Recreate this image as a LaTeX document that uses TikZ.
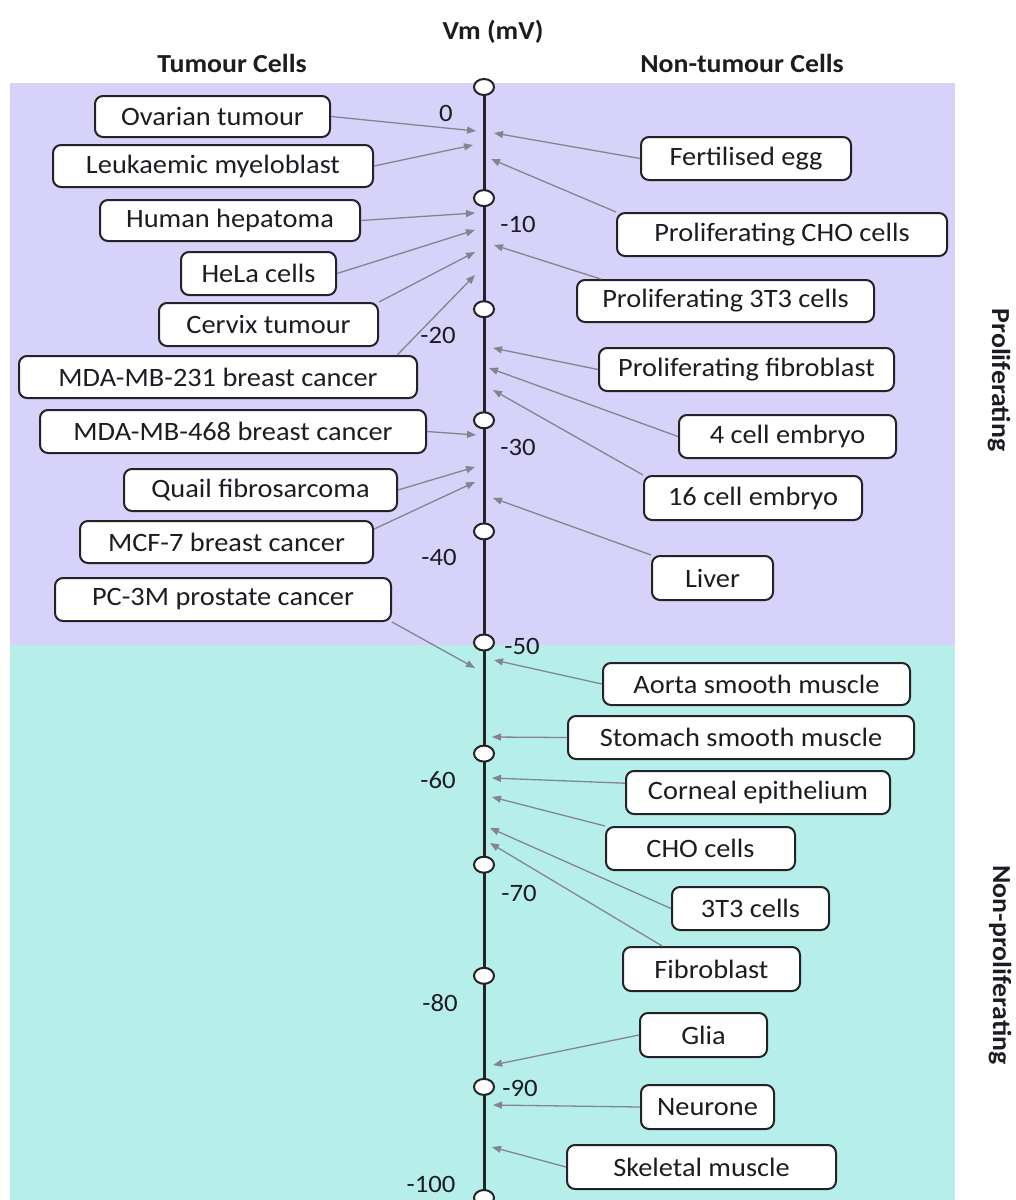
\documentclass[tikz,border=0pt]{standalone}
\usepackage{fontspec}
\setmainfont[FakeStretch=1.07]{Carlito}
\usetikzlibrary{arrows.meta,shapes.geometric}

\definecolor{prolif}{RGB}{214,210,249}
\definecolor{quiesc}{RGB}{182,239,234}
\definecolor{boxline}{RGB}{34,34,40}
\definecolor{linkgrey}{RGB}{132,132,142}
\definecolor{inkcol}{RGB}{28,28,34}

\tikzset{
  cellbox/.style={draw=boxline, line width=2pt, fill=white, rounded corners=8pt,
    inner sep=0pt, text=inkcol, font=\fontsize{26.5}{30}\selectfont},
  link/.style={draw=linkgrey, line width=1.3pt, -{Triangle[length=9pt,width=7pt]}},
  scalelbl/.style={inner sep=0pt, text=inkcol, font=\fontsize{25}{28}\selectfont},
  head/.style={inner sep=0pt, text=inkcol, font=\bfseries\fontsize{26}{30}\selectfont},
  axisline/.style={draw=boxline, line width=3pt},
  mvmark/.style={ellipse, draw=boxline, line width=2pt, fill=white,
    minimum width=20pt, minimum height=16pt, inner sep=0pt}
}

\begin{document}
\begin{tikzpicture}[x=1pt,y=-1pt]
\useasboundingbox (0,0) rectangle (1016,1200);
\fill[white] (0,0) rectangle (1016,1200);

% proliferating / non-proliferating bands
\fill[prolif] (10,83) rectangle (955,645);
\fill[quiesc] (10,645) rectangle (955,1200);

% headings
\node[head] (vm)   at (493,32)  {Vm (mV)};
\node[head] (tum)  at (232,63)  {Tumour Cells};
\node[head] (ntum) at (742,63)  {Non-tumour Cells};
\node[head, rotate=-90] (pro)  at (999,380) {Proliferating};
\node[head, rotate=-90] (npro) at (1000,965) {Non-proliferating};

% membrane potential scale
\foreach \k in {0,...,10} {
  \coordinate (p\k) at (484,{87+111.1*\k});
}
\draw[axisline] (p0) -- (p10);
\foreach \k in {0,...,10} {
  \node[mvmark] (c\k) at (p\k) {};
}

\node[scalelbl] (v0)   at (446,113)  {0};
\node[scalelbl] (v10)  at (518,224)  {-10};
\node[scalelbl] (v20)  at (438,335)  {-20};
\node[scalelbl] (v30)  at (518,447)  {-30};
\node[scalelbl] (v40)  at (439,557)  {-40};
\node[scalelbl] (v50)  at (522,646)  {-50};
\node[scalelbl] (v60)  at (438,780)  {-60};
\node[scalelbl] (v70)  at (519,893)  {-70};
\node[scalelbl] (v80)  at (440,1003) {-80};
\node[scalelbl] (v90)  at (520,1088) {-90};
\node[scalelbl] (v100) at (431,1184) {-100};

% tumour cells
\node[cellbox, minimum width=235pt, minimum height=41pt] (ov)    at (212.5,116.5) {Ovarian tumour};
\node[cellbox, minimum width=320pt, minimum height=42pt] (leuk)  at (213,166)     {Leukaemic myeloblast};
\node[cellbox, minimum width=260pt, minimum height=41pt] (hep)   at (230,220.5)   {Human hepatoma};
\node[cellbox, minimum width=155pt, minimum height=43pt] (hela)  at (258.5,273.5) {HeLa cells};
\node[cellbox, minimum width=219pt, minimum height=43pt] (cerv)  at (268.5,324.5) {Cervix tumour};
\node[cellbox, minimum width=398pt, minimum height=42pt] (m231)  at (218,377)     {MDA-MB-231 breast cancer};
\node[cellbox, minimum width=386pt, minimum height=43pt] (m468)  at (233,431.5)   {MDA-MB-468 breast cancer};
\node[cellbox, minimum width=273pt, minimum height=42pt] (quail) at (260.5,490)   {Quail fibrosarcoma};
\node[cellbox, minimum width=293pt, minimum height=42pt] (mcf)   at (226.5,542)   {MCF-7 breast cancer};
\node[cellbox, minimum width=336pt, minimum height=43pt] (pc)    at (223,599.5)   {PC-3M prostate cancer};

% non-tumour cells
\node[cellbox, minimum width=210pt, minimum height=43pt] (egg)   at (746,158.5)   {Fertilised egg};
\node[cellbox, minimum width=330pt, minimum height=43pt] (pcho)  at (782,234.5)   {Proliferating CHO cells};
\node[cellbox, minimum width=297pt, minimum height=42pt] (pttt)  at (725.5,301)   {Proliferating 3T3 cells};
\node[cellbox, minimum width=295pt, minimum height=43pt] (pfib)  at (746.5,369.5) {Proliferating fibroblast};
\node[cellbox, minimum width=217pt, minimum height=43pt] (emb4)  at (787.5,436.5) {4 cell embryo};
\node[cellbox, minimum width=218pt, minimum height=44pt] (emb16) at (753,498)     {16 cell embryo};
\node[cellbox, minimum width=121pt, minimum height=44pt] (liver) at (712.5,578)   {Liver};
\node[cellbox, minimum width=307pt, minimum height=42pt] (aorta) at (756.5,684)   {Aorta smooth muscle};
\node[cellbox, minimum width=346pt, minimum height=43pt] (stom)  at (741,737.5)   {Stomach smooth muscle};
\node[cellbox, minimum width=264pt, minimum height=43pt] (corn)  at (758,792.5)   {Corneal epithelium};
\node[cellbox, minimum width=189pt, minimum height=43pt] (cho)   at (700.5,848.5) {CHO cells};
\node[cellbox, minimum width=157pt, minimum height=43pt] (ttt)   at (750.5,908.5) {3T3 cells};
\node[cellbox, minimum width=177pt, minimum height=44pt] (fib)   at (711.5,969)   {Fibroblast};
\node[cellbox, minimum width=127pt, minimum height=44pt] (glia)  at (703.5,1035)  {Glia};
\node[cellbox, minimum width=133pt, minimum height=44pt] (neur)  at (707.5,1107)  {Neurone};
\node[cellbox, minimum width=269pt, minimum height=44pt] (skel)  at (701.5,1167)  {Skeletal muscle};

% arrow targets beside the scale
\coordinate (a-ov)    at (476,131);
\coordinate (a-leuk)  at (473,145);
\coordinate (a-hep)   at (475,213);
\coordinate (a-hela)  at (475,230);
\coordinate (a-cerv)  at (475,252);
\coordinate (a-m231)  at (475,275);
\coordinate (a-m468)  at (476,435);
\coordinate (a-quail) at (475,467);
\coordinate (a-mcf)   at (475,482);
\coordinate (a-pc)    at (475,668);

\coordinate (a-egg)   at (494,133);
\coordinate (a-pcho)  at (491,159);
\coordinate (a-pttt)  at (494,245);
\coordinate (a-pfib)  at (493,348);
\coordinate (a-emb4)  at (489,368);
\coordinate (a-emb16) at (493,390);
\coordinate (a-liver) at (493,498);
\coordinate (a-aorta) at (494,660);
\coordinate (a-stom)  at (492,737);
\coordinate (a-corn)  at (492,778);
\coordinate (a-cho)   at (492,797);
\coordinate (a-ttt)   at (490,828);
\coordinate (a-fib)   at (490,843);
\coordinate (a-glia)  at (493,1065);
\coordinate (a-neur)  at (493,1105);
\coordinate (a-skel)  at (492,1147);

% connectors
\draw[link] (ov.east)       -- (a-ov);
\draw[link] (leuk.east)     -- (a-leuk);
\draw[link] (hep.east)      -- (a-hep);
\draw[link] (hela.east)     -- (a-hela);
\draw[link] (cerv.north east) -- (a-cerv);
\draw[link] (m231.7)        -- (a-m231);
\draw[link] (m468.east)     -- (a-m468);
\draw[link] (quail.east)    -- (a-quail);
\draw[link] (mcf.5)         -- (a-mcf);
\draw[link] (pc.south east) -- (a-pc);

\draw[link] (egg.west)        -- (a-egg);
\draw[link] (pcho.north west) -- (a-pcho);
\draw[link] (pttt.170)        -- (a-pttt);
\draw[link] (pfib.west)       -- (a-pfib);
\draw[link] (emb4.west)       -- (a-emb4);
\draw[link] (emb16.north west) -- (a-emb16);
\draw[link] (liver.north west) -- (a-liver);
\draw[link] (aorta.west)      -- (a-aorta);
\draw[link] (stom.west)       -- (a-stom);
\draw[link] (corn.176)        -- (a-corn);
\draw[link] (cho.north west)  -- (a-cho);
\draw[link] (ttt.west)        -- (a-ttt);
\draw[link] (fib.155)         -- (a-fib);
\draw[link] (glia.west)       -- (a-glia);
\draw[link] (neur.west)       -- (a-neur);
\draw[link] (skel.west)       -- (a-skel);
\end{tikzpicture}
\end{document}
